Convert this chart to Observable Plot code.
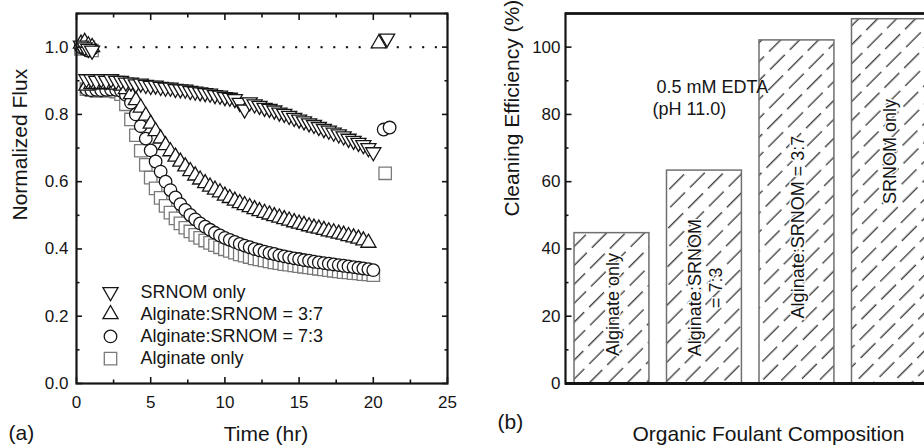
<!DOCTYPE html>
<html><head><meta charset="utf-8">
<script src="https://cdn.jsdelivr.net/npm/d3@7"></script>
<script src="https://cdn.jsdelivr.net/npm/@observablehq/plot@0.6"></script>
<style>
html,body{margin:0;padding:0;background:#fff;}
#wrap{position:relative;width:924px;height:446px;overflow:hidden;background:#fff;}
#a{position:absolute;left:0;top:0;width:470px;}
#b{position:absolute;left:470px;top:0;width:520px;}
#wrap svg{max-width:none !important;}
</style></head><body>
<div id="wrap"><div id="a"></div><div id="b"></div></div>
<script>
// ---------- Panel (a) data ----------
const time = [0.67,1.00,1.33,1.67,2.00,2.33,2.67,3.00,3.33,3.67,
  4.00,4.33,4.67,5.00,5.33,5.67,6.00,6.33,6.67,7.00,
  7.33,7.67,8.00,8.33,8.67,9.00,9.33,9.67,10.00,10.33,
  10.67,11.00,11.33,11.67,12.00,12.33,12.67,13.00,13.33,13.67,
  14.00,14.33,14.67,15.00,15.33,15.67,16.00,16.33,16.67,17.00,
  17.33,17.67,18.00,18.33,18.67,19.00,19.33,19.67,20.00];

const fluxSRNOM = [0.905,0.905,0.900,0.905,0.900,0.905,0.900,0.900,0.895,0.895,
  0.890,0.892,0.888,0.885,0.886,0.882,0.880,0.880,0.876,0.875,
  0.874,0.870,0.868,0.866,0.864,0.862,0.858,0.856,0.852,0.850,
  0.846,0.835,0.815,0.836,0.830,0.826,0.820,0.817,0.812,0.806,
  0.802,0.796,0.790,0.785,0.780,0.774,0.769,0.763,0.757,0.752,
  0.746,0.741,0.735,0.728,0.722,0.716,0.709,0.700,0.688];

const flux37 = [0.885,0.890,0.890,0.890,0.890,0.890,0.888,0.885,0.875,0.860,
  0.842,0.820,0.796,0.772,0.750,0.728,0.708,0.690,0.674,0.659,
  0.645,0.631,0.618,0.606,0.595,0.585,0.576,0.568,0.558,0.551,
  0.543,0.536,0.530,0.524,0.518,0.512,0.507,0.502,0.497,0.493,
  0.488,0.484,0.479,0.475,0.471,0.467,0.463,0.460,0.456,0.452,
  0.449,0.445,0.442,0.438,0.434,0.430,0.425,0.418,null];

const flux73 = [0.875,0.872,0.873,0.872,0.873,0.874,0.873,0.870,0.858,0.835,
  0.800,0.765,0.728,0.693,0.660,0.630,0.600,0.575,0.553,0.533,
  0.516,0.501,0.488,0.476,0.466,0.457,0.448,0.440,0.433,0.427,
  0.421,0.415,0.410,0.405,0.400,0.396,0.392,0.388,0.385,0.381,
  0.378,0.375,0.372,0.370,0.367,0.365,0.362,0.360,0.358,0.356,
  0.354,0.352,0.350,0.348,0.346,0.344,0.342,0.340,0.337];

const fluxAlg = [0.875,0.872,0.870,0.872,0.870,0.872,0.868,0.860,0.830,0.785,
  0.738,0.692,0.650,0.612,0.580,0.552,0.528,0.508,0.491,0.476,
  0.463,0.452,0.442,0.433,0.425,0.418,0.411,0.405,0.399,0.394,
  0.389,0.384,0.380,0.376,0.372,0.369,0.366,0.363,0.360,0.358,
  0.355,0.353,0.351,0.349,0.347,0.345,0.343,0.341,0.339,0.337,
  0.335,0.333,0.331,0.330,0.328,0.327,0.325,0.324,0.322];

// pure-water baseline (before fouling)
const baseTime = [0.30, 0.55, 0.80, 1.05];
const baseSRNOM = [1.005, 1.000, 0.995, 0.990];
const base37 = [1.010, 1.015, 1.005, 1.000];
const base73 = [1.000, 0.995, 0.990, 0.995];
const baseAlg = [0.995, 1.000, 1.000, 0.990];

// after cleaning
const postTimeSRNOM = [20.93], postSRNOM = [1.026];
const postTime37 = [20.37], post37 = [1.011];
const postTime73 = [20.70, 21.10], post73 = [0.755, 0.761];
const postTimeAlg = [20.80], postAlg = [0.625];

const legendLabels = ["SRNOM only", "Alginate:SRNOM = 3:7", "Alginate:SRNOM = 7:3", "Alginate only"];
const xTicksA = [0, 5, 10, 15, 20, 25];
const xMinorA = [2.5, 7.5, 12.5, 17.5, 22.5];
const yTicksA = [0, 0.2, 0.4, 0.6, 0.8, 1.0];
const yMinorA = [0.1, 0.3, 0.5, 0.7, 0.9, 1.1];
const referenceFlux = 1.0;
const referenceStart = 2.0;

// ---------- Panel (b) data ----------
const compositions = ["Alginate only", "Alginate:SRNOM = 7:3", "Alginate:SRNOM = 3:7", "SRNOM only"];
const barLabels = ["Alginate only", "Alginate:SRNOM\n= 7:3", "Alginate:SRNOM = 3:7", "SRNOM only"];
const efficiency = [44.7, 63.3, 102.0, 108.3];
const barLabelAt = [23.5, 28.5, 46.5, 69];
const annotation = ["0.5 mM EDTA", "(pH 11.0)"];
const yTicksB = [0, 20, 40, 60, 80, 100];
const yMinorB = [10, 30, 50, 70, 90];

// ---------- drawing ----------
const FONT = "'Liberation Sans', Arial, Helvetica, sans-serif";
const INK = "#151515";
const rows = (ts, vs) => ts.map((t, i) => ({t, v: vs[i]})).filter(d => d.v != null);

const styleSRNOM = {symbol: "triangle", rotate: 180, r: 5.6, stroke: INK};
const style37 = {symbol: "triangle", rotate: 0, r: 5.6, stroke: INK};
const style73 = {symbol: "circle", rotate: 0, r: 6.3, stroke: INK};
const styleAlg = {symbol: "square", rotate: 0, r: 7.0, stroke: "#7a7a7a"};

// drawing order: squares, circles, up triangles, down triangles
const seriesDefs = [
  {ts: [baseTime, time, postTimeAlg], vs: [baseAlg, fluxAlg, postAlg], ...styleAlg},
  {ts: [baseTime, time, postTime73], vs: [base73, flux73, post73], ...style73},
  {ts: [baseTime, time, postTime37], vs: [base37, flux37, post37], ...style37},
  {ts: [baseTime, time, postTimeSRNOM], vs: [baseSRNOM, fluxSRNOM, postSRNOM], ...styleSRNOM}
];
const legendStyle = [styleSRNOM, style37, style73, styleAlg];

const Wa = 470, H = 446;
const mA = {left: 76, right: 23, top: 13, bottom: 63};

const marksA = [
  Plot.ruleY([referenceFlux], {x1: referenceStart, x2: 25, stroke: INK, strokeWidth: 2.4, strokeDasharray: "0,12.7", strokeLinecap: "round"})
];
for (const s of seriesDefs) {
  const data = s.ts.flatMap((ts, k) => rows(ts, s.vs[k]));
  marksA.push(Plot.dot(data, {x: "t", y: "v", symbol: s.symbol, r: s.r, rotate: s.rotate, stroke: s.stroke, fill: "white", strokeWidth: 1.3}));
}
marksA.push(
  Plot.frame({stroke: INK, strokeWidth: 2.2}),
  Plot.axisX(xTicksA, {anchor: "bottom", tickSize: 0, tickPadding: 12, fontSize: 17, label: null, tickFormat: d3.format("d")}),
  Plot.axisX(xTicksA, {anchor: "bottom", tickSize: -6, tickFormat: () => "", label: null, strokeWidth: 1.6}),
  Plot.axisX(xMinorA, {anchor: "bottom", tickSize: -3.5, tickFormat: () => "", label: null, strokeWidth: 1.6}),
  Plot.axisX(xTicksA, {anchor: "top", tickSize: -6, tickFormat: () => "", label: null, strokeWidth: 1.6}),
  Plot.axisX(xMinorA, {anchor: "top", tickSize: -3.5, tickFormat: () => "", label: null, strokeWidth: 1.6}),
  Plot.axisY(yTicksA, {anchor: "left", tickSize: 0, tickPadding: 8, fontSize: 17, label: null, tickFormat: d3.format(".1f")}),
  Plot.axisY(yTicksA, {anchor: "left", tickSize: -6, tickFormat: () => "", label: null, strokeWidth: 1.6}),
  Plot.axisY(yMinorA, {anchor: "left", tickSize: -3.5, tickFormat: () => "", label: null, strokeWidth: 1.6}),
  Plot.axisY(yTicksA, {anchor: "right", tickSize: -6, tickFormat: () => "", label: null, strokeWidth: 1.6}),
  Plot.axisY(yMinorA, {anchor: "right", tickSize: -3.5, tickFormat: () => "", label: null, strokeWidth: 1.6}),
  Plot.text(["Time (hr)"], {text: d => d, frameAnchor: "bottom", dx: 4, dy: 50.5, fontSize: 21, lineAnchor: "middle", fill: INK}),
  Plot.text(["(a)"], {text: d => d, frameAnchor: "bottom-left", dx: -68, dy: 50, fontSize: 21, textAnchor: "start", lineAnchor: "middle", fill: INK}),
  Plot.text(["Normalized Flux"], {text: d => d, frameAnchor: "left", dx: -56.5, dy: 22, rotate: -90, fontSize: 21, lineAnchor: "middle", fill: INK})
);
legendLabels.forEach((lab, i) => {
  const s = legendStyle[i];
  const dy = -91.5 + i * 22.2;
  marksA.push(
    Plot.dot([lab], {frameAnchor: "bottom-left", dx: 34, dy, symbol: s.symbol, r: s.r, rotate: s.rotate, stroke: s.stroke, fill: "white", strokeWidth: 1.3}),
    Plot.text([lab], {text: d => d, frameAnchor: "bottom-left", dx: 64, dy, textAnchor: "start", lineAnchor: "middle", fontSize: 18, fill: INK})
  );
});

const chartA = Plot.plot({
  width: Wa, height: H,
  marginLeft: mA.left, marginRight: mA.right, marginTop: mA.top, marginBottom: mA.bottom,
  style: {fontFamily: FONT, fontSize: "17px", color: INK, background: "white", maxWidth: "none"},
  x: {domain: [0, 25]},
  y: {domain: [0, 1.1]},
  marks: marksA
});
document.getElementById("a").append(chartA);

// ---------- Panel (b) ----------
const Wb = 520;
const mB = {left: 95, right: 19, top: 13, bottom: 63};
const barData = compositions.map((c, i) => ({c, v: efficiency[i], label: barLabels[i], ly: barLabelAt[i]}));

const chartB = Plot.plot({
  width: Wb, height: H,
  marginLeft: mB.left, marginRight: mB.right, marginTop: mB.top, marginBottom: mB.bottom,
  style: {fontFamily: FONT, fontSize: "17px", color: INK, background: "white", maxWidth: "none"},
  x: {type: "band", domain: compositions, paddingInner: 0.19, paddingOuter: 0.2897, align: 0.168, round: false, axis: null},
  y: {domain: [0, 110]},
  marks: [
    Plot.barY(barData, {x: "c", y: "v", fill: "url(#hatchB)", stroke: "#707070", strokeWidth: 1.5}),
    Plot.text(barData, {x: "c", y: "ly", text: "label", rotate: -90, fontSize: 18, lineHeight: 1.2, lineAnchor: "middle", fill: INK, stroke: "white", strokeWidth: 3, paintOrder: "stroke"}),
    Plot.frame({stroke: INK, strokeWidth: 2.2}),
    Plot.ruleY([0], {stroke: INK, strokeWidth: 2.8}),
    Plot.ruleY([110], {stroke: INK, strokeWidth: 2.6}),
    Plot.axisY(yTicksB, {anchor: "left", tickSize: 0, tickPadding: 5, fontSize: 17, label: null}),
    Plot.axisY(yTicksB, {anchor: "left", tickSize: -6.5, tickFormat: () => "", label: null, strokeWidth: 1.6}),
    Plot.axisY(yMinorB, {anchor: "left", tickSize: -3.5, tickFormat: () => "", label: null, strokeWidth: 1.6}),
    Plot.text([annotation[0]], {text: d => d, frameAnchor: "top-left", dx: 91, dy: 74, fontSize: 18, lineAnchor: "middle", fill: INK}),
    Plot.text([annotation[1]], {text: d => d, frameAnchor: "top-left", dx: 87, dy: 96, fontSize: 18, lineAnchor: "middle", fill: INK}),
    Plot.text(["Cleaning Efficiency (%)"], {text: d => d, frameAnchor: "left", dx: -53, dy: 18, rotate: -90, fontSize: 21, lineAnchor: "middle", fill: INK}),
    Plot.text(["Organic Foulant Composition"], {text: d => d, frameAnchor: "bottom", dx: 0, dy: 50.3, fontSize: 21, lineAnchor: "middle", fill: INK}),
    Plot.text(["(b)"], {text: d => d, frameAnchor: "bottom-left", dx: -68, dy: 38.5, fontSize: 21, textAnchor: "start", lineAnchor: "middle", fill: INK})
  ]
});
document.getElementById("b").append(chartB);

// hatch pattern for bars
const defs = d3.select(chartB).insert("defs", ":first-child");
const pat = defs.append("pattern").attr("id", "hatchB")
  .attr("patternUnits", "userSpaceOnUse").attr("width", 26.8).attr("height", 28)
  .attr("patternTransform", "rotate(45)");
pat.append("rect").attr("width", 26.8).attr("height", 28).attr("fill", "white");
const hl = (x1, y1, x2, y2) => pat.append("line").attr("x1", x1).attr("y1", y1).attr("x2", x2).attr("y2", y2)
  .attr("stroke", "#222").attr("stroke-width", 1.2);
hl(6.7, 0, 6.7, 21);
hl(20.1, 12, 20.1, 28);
hl(20.1, 0, 20.1, 5);
</script>
</body></html>
